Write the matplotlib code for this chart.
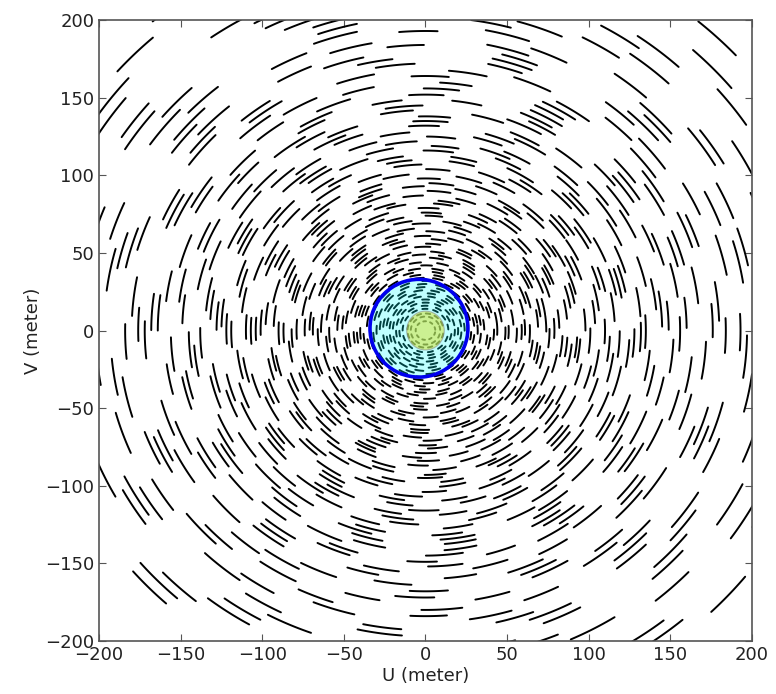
import numpy as np
import matplotlib
matplotlib.use("Agg")
from matplotlib import pyplot as plt
from matplotlib.collections import LineCollection
from matplotlib.patches import Ellipse

# baselines: ring radius (m), dash period (deg), phase (deg), dash span (deg)
radio = [6, 9, 11, 14, 16, 18, 20, 22, 24, 26, 28, 30,
         32, 34, 36, 38, 40, 42, 44, 47, 49, 51, 54, 56,
         59, 61, 64, 66, 69, 71, 74, 76, 79, 82, 84, 87,
         90, 93, 95, 98, 101, 104, 107, 110, 113, 116, 119, 122,
         125, 128, 132, 135, 138, 142, 145, 149, 152, 156, 160, 164,
         168, 172, 176, 180, 184, 188, 193, 197, 202, 207, 212, 218,
         224, 230, 237, 244, 252, 260]
periodo = [41.0, 33.5, 29.0, 27.3, 31.7, 24.2, 26.9, 22.6, 28.4, 23.1, 25.7, 21.3,
           24.8, 19.6, 23.5, 27.2, 20.7, 24.3, 21.9, 26.4, 18.8, 23.1, 27.6, 20.9,
           25.2, 19.3, 22.8, 27.7, 21.4, 24.6, 18.5, 26.9, 22.7, 20.2, 27.3, 21.5,
           24.1, 19.9, 26.8, 21.2, 25.6, 23.4, 28.1, 20.1, 23.0, 26.2, 19.4, 27.5,
           22.3, 25.8, 20.6, 27.1, 23.9, 22.7, 29.9, 18.9, 26.4, 24.8, 21.6, 29.0,
           23.7, 28.6, 26.2, 33.4, 22.1, 29.7, 24.4, 31.1, 27.0, 35.2, 25.5, 30.9,
           28.3, 34.6, 26.7, 32.8, 36.5, 40.0]
fase = [5, 28, 17, 3, 22, 11, 30, 7, 19, 2, 14, 25,
        9, 33, 1, 20, 12, 36, 6, 24, 15, 31, 4, 18,
        27, 10, 34, 13, 2, 23, 8, 29, 16, 38, 21, 5,
        32, 11, 26, 0, 19, 35, 7, 14, 28, 3, 22, 10,
        37, 17, 4, 30, 12, 25, 1, 20, 33, 8, 15, 27,
        6, 35, 18, 2, 24, 11, 39, 9, 21, 31, 5, 16,
        26, 13, 34, 7, 22, 3]
arco = [16, 15, 14, 13, 13, 12, 12, 11, 11, 11, 10, 10,
        10, 10, 10, 9, 10, 9, 9, 10, 9, 9, 10, 9,
        9, 9, 10, 9, 9, 9, 8, 9, 9, 8, 9, 8,
        9, 8, 9, 8, 9, 8, 9, 8, 8, 9, 8, 9,
        8, 8, 8, 9, 8, 8, 9, 7, 8, 8, 7, 8,
        8, 8, 7, 8, 7, 8, 7, 8, 7, 8, 7, 8,
        7, 8, 7, 8, 7, 7]

# circulos resaltados: centro (u, v), ancho, alto
circ_azul = (-4, 1.5, 60, 63)
circ_verde = (0, 0, 23, 25)

segmentos = []
for r, p, f, a in zip(radio, periodo, fase, arco):
    for inicio in np.arange(f, 360 + f - a, p):
        t = np.radians(np.linspace(inicio, inicio + a, 12))
        segmentos.append(np.column_stack([r * np.cos(t), r * np.sin(t)]))

fig = plt.figure(figsize=(7.76, 6.94), dpi=100)
ax = fig.add_axes([0.1276, 0.0764, 0.8414, 0.8946])

lc = LineCollection(segmentos, colors='black', linewidths=1.4, capstyle='round')
ax.add_collection(lc)

ax.add_patch(Ellipse(circ_azul[:2], circ_azul[2], circ_azul[3],
                     facecolor='cyan', alpha=0.25, edgecolor='none', zorder=3))
ax.add_patch(Ellipse(circ_azul[:2], circ_azul[2], circ_azul[3],
                     fill=False, edgecolor='#0000ee', linewidth=2.6, zorder=4))
ax.add_patch(Ellipse(circ_verde[:2], circ_verde[2], circ_verde[3],
                     facecolor='#d4e64a', alpha=0.6, edgecolor='#888888',
                     linewidth=0.8, zorder=4))

ax.set_xlim(-200, 200)
ax.set_ylim(-200, 200)
ax.set_xticks(np.arange(-200, 201, 50))
ax.set_yticks(np.arange(-200, 201, 50))
ax.tick_params(direction='in', top=True, right=True, length=5,
               labelsize=13, color='#555555', labelcolor='#222222')
for s in ax.spines.values():
    s.set_color('#555555')
    s.set_linewidth(1.2)

ax.set_xlabel("U (meter)", fontsize=13, labelpad=2, color='#222222')
ax.set_ylabel("V (meter)", fontsize=13, labelpad=2, color='#222222')

plt.savefig("out.png", dpi=100)
